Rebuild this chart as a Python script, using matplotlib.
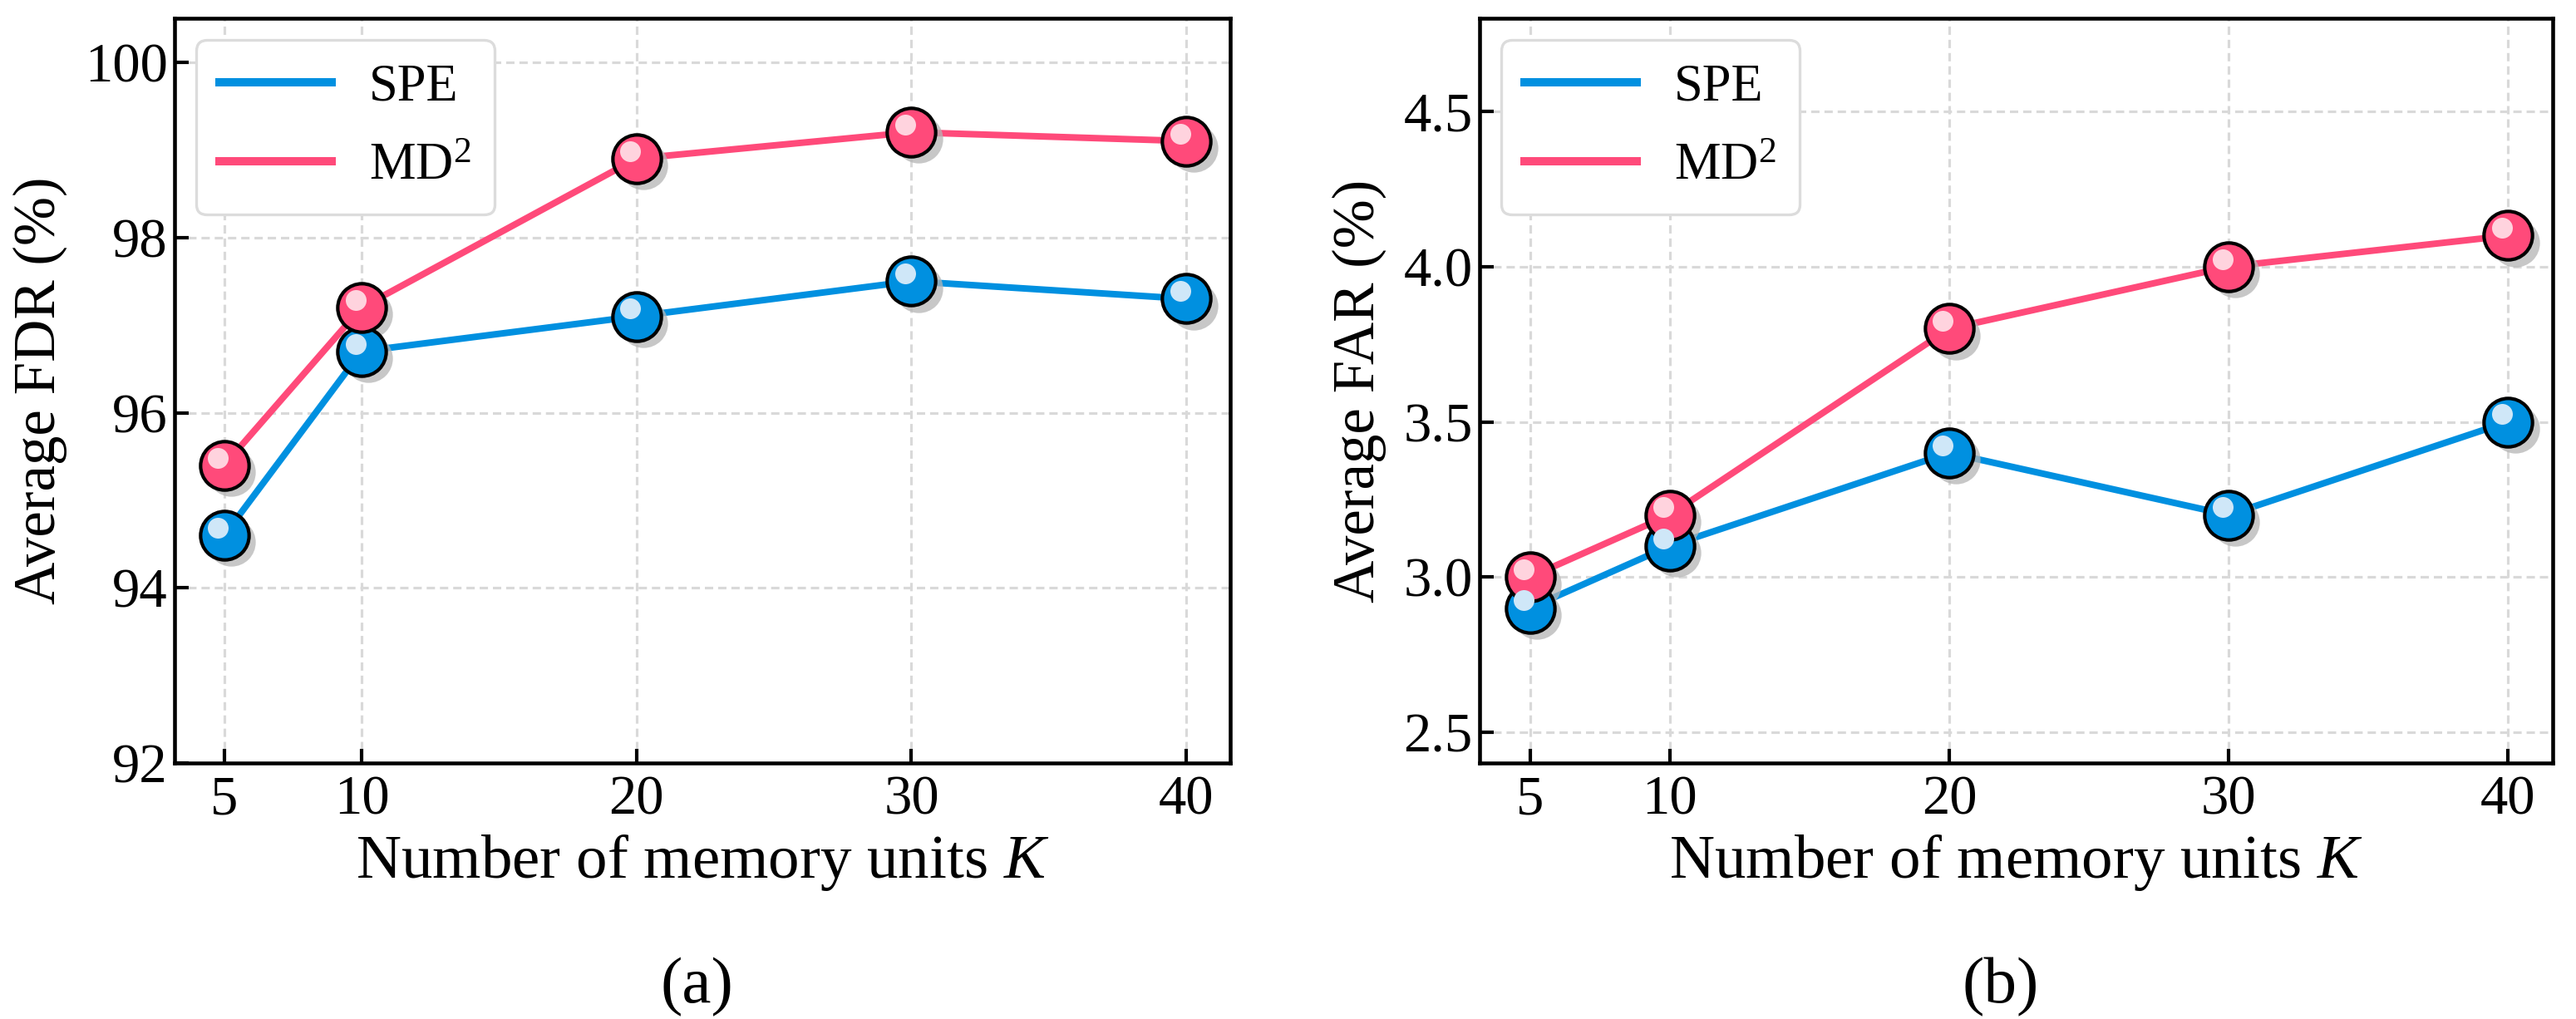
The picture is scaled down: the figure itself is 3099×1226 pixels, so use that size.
import matplotlib.pyplot as plt
from matplotlib.transforms import offset_copy

plt.rcParams['font.family'] = ['Liberation Serif', 'DejaVu Serif']
plt.rcParams['mathtext.fontset'] = 'custom'
plt.rcParams['mathtext.rm'] = 'Liberation Serif'
plt.rcParams['mathtext.it'] = 'Liberation Serif:italic'

K = [5, 10, 20, 30, 40]
fdr_spe = [94.6, 96.7, 97.1, 97.5, 97.3]
fdr_md2 = [95.4, 97.2, 98.9, 99.2, 99.1]
far_spe = [2.9, 3.1, 3.4, 3.2, 3.5]
far_md2 = [3.0, 3.2, 3.8, 4.0, 4.1]

blue = '#0090E0'
pink = '#FF4A7A'
blue_hi = '#CFE7F8'
pink_hi = '#FFD3DE'

fig = plt.figure(figsize=(3099 / 300, 1226 / 300), dpi=300)
ax1 = fig.add_axes([0.0678, 0.251, 0.4098, 0.731])
ax2 = fig.add_axes([0.5744, 0.251, 0.4166, 0.731])


def draw(ax, spe, md2, ylim, yticks, ylabel, tag, tag_x):
    series = [(spe, blue, blue_hi, 'SPE'), (md2, pink, pink_hi, 'MD$^2$')]
    for vals, c, hi, lab in series:
        ax.plot(K, vals, color=c, lw=1.9, zorder=2, label=lab)
    shadow = offset_copy(ax.transData, fig=fig, x=2.0, y=-2.0, units='points')
    shine = offset_copy(ax.transData, fig=fig, x=-1.8, y=2.2, units='points')
    for vals, c, hi, lab in series:
        ax.plot(K, vals, 'o', ms=14, color='#b5b5b5', alpha=0.75, mec='none',
                transform=shadow, zorder=3)
    for vals, c, hi, lab in series:
        ax.plot(K, vals, 'o', ms=14, mfc=c, mec='black', mew=1.0, zorder=4)
    for vals, c, hi, lab in series:
        ax.plot(K, vals, 'o', ms=6, mfc=hi, mec='none', transform=shine, zorder=5)

    ax.set_xlim(3.2, 41.6)
    ax.set_ylim(*ylim)
    ax.set_xticks(K)
    ax.set_yticks(yticks)
    ax.grid(True, ls=(0, (3.2, 1.9)), color='#d9d9d9', lw=0.75)
    ax.set_axisbelow(True)
    ax.tick_params(direction='in', length=4, width=1.0)
    ax.tick_params(axis='x', labelsize=16, pad=3.5)
    ax.tick_params(axis='y', labelsize=16, pad=2)
    for s in ax.spines.values():
        s.set_linewidth(1.1)
    ax.set_xlabel('Number of memory units $K$', fontsize=18, labelpad=2)
    ax.set_ylabel(ylabel, fontsize=17, labelpad=5)
    leg = ax.legend(loc='upper left', fontsize=15, handlelength=2.15, handletextpad=0.72,
                    labelspacing=0.6, borderpad=0.45, fancybox=True, framealpha=1,
                    edgecolor='#dcdcdc', borderaxespad=0.42)
    leg.get_frame().set_linewidth(0.8)
    for h in leg.get_lines():
        h.set_linewidth(2.4)
    ax.text(tag_x, -0.3, tag, transform=ax.transAxes, ha='center', va='center', fontsize=19)


draw(ax1, fdr_spe, fdr_md2, (92, 100.5), [92, 94, 96, 98, 100], 'Average FDR (%)', '(a)', 0.495)
draw(ax2, far_spe, far_md2, (2.4, 4.8), [2.5, 3.0, 3.5, 4.0, 4.5], 'Average FAR (%)', '(b)', 0.485)

fig.savefig('out.png', dpi=300)
